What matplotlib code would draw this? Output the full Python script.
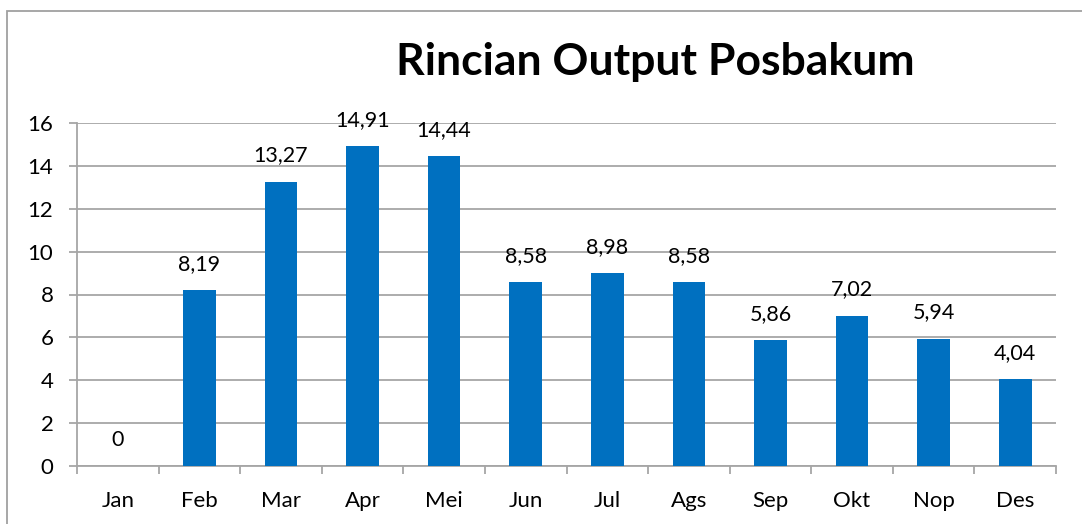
import matplotlib
matplotlib.use("Agg")
import matplotlib.pyplot as plt
from matplotlib.patches import Rectangle

months = ["Jan", "Feb", "Mar", "Apr", "Mei", "Jun", "Jul", "Ags", "Sep", "Okt", "Nop", "Des"]
values = [0, 8.19, 13.27, 14.91, 14.44, 8.58, 8.98, 8.58, 5.86, 7.02, 5.94, 4.04]
yticks = [0, 2, 4, 6, 8, 10, 12, 14, 16]
title = "Rincian Output Posbakum"

plt.rcParams['font.family'] = ['Lato', 'DejaVu Sans']

W, H = 1082, 524
fig = plt.figure(figsize=(W / 100, H / 100), dpi=100)
ax = fig.add_axes([77 / W, 1 - 466 / H, (1056 - 77) / W, (466 - 123) / H])

grid_c = "#A6A6A6"
x = list(range(len(months)))
ax.bar(x, values, width=0.4, color="#0070C0", zorder=3)

for xi, v in zip(x, values):
    label = f"{v:.2f}".replace(".", ",") if v != 0 else "0"
    ax.annotate(label, (xi, v), xytext=(0, 19), textcoords="offset points",
                ha="center", va="center", fontsize=15.5, color="black")

ax.set_xlim(-0.5, len(months) - 0.5)
ax.set_ylim(0, 16)
ax.set_yticks(yticks)
ax.set_yticklabels([str(t) for t in yticks], fontsize=16)
ax.yaxis.grid(True, color=grid_c, linewidth=1.3, zorder=0)
ax.tick_params(axis='y', length=6, width=1.3, color=grid_c, pad=11)

ax.set_xticks(x)
ax.set_xticklabels(months, fontsize=16)
ax.tick_params(axis='x', which='major', length=0, pad=18)
ax.set_xticks([i - 0.5 for i in range(len(months) + 1)], minor=True)
ax.tick_params(axis='x', which='minor', length=6, width=1.3, color=grid_c)

for s in ["top", "right"]:
    ax.spines[s].set_visible(False)
for s in ["left", "bottom"]:
    ax.spines[s].set_color(grid_c)
    ax.spines[s].set_linewidth(1.3)

fig.text(655 / W, 1 - 62 / H, title, ha="center", va="center",
         fontsize=32, fontweight="bold", color="black")

fig.patches.append(Rectangle((7 / W, -0.1), 1.2, 1 - 11 / H + 0.1,
                             transform=fig.transFigure, fill=False,
                             edgecolor="#A0A0A0", linewidth=1.3))

fig.savefig("out.png", dpi=100)
